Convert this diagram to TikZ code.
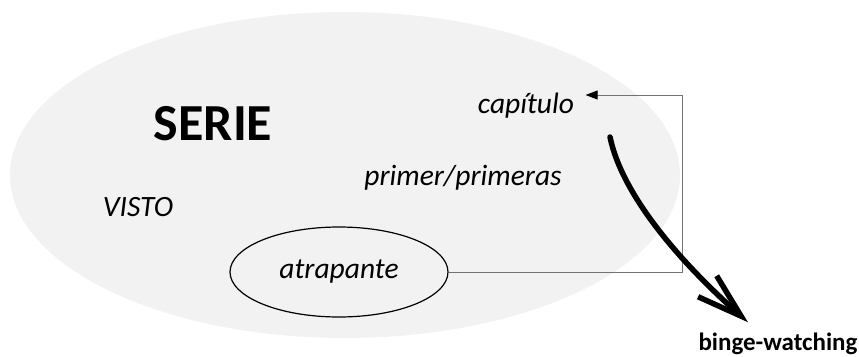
\documentclass[tikz,border=0pt]{standalone}
\usepackage{fontspec}
\setmainfont{Carlito}
\usetikzlibrary{arrows.meta,shapes.geometric}

\begin{document}
\begin{tikzpicture}[x=1pt,y=-1pt,
  word/.style={font=\fontsize{29.5}{35}\selectfont\itshape},
  link/.style={draw=black!55, line width=1pt}]
\useasboundingbox (0,0) rectangle (859,356);
\node[ellipse, fill=black!5, minimum width=670pt, minimum height=326pt, inner sep=0] (serieset) at (345,175) {};

\node[font=\fontsize{52}{60}\selectfont\bfseries] (serie) at (213,124) {SERIE};
\node[word] (visto) at (138,207) {VISTO};
\node[word] (primer) at (463,178) {primer/primeras};
\node[word] (cap) at (526,106) {capítulo};
\node[word, draw, ellipse, line width=1.2pt, minimum width=218pt, minimum height=90pt] (atr) at (339,272) {atrapante};
\node[font=\fontsize{25}{30}\selectfont\bfseries, anchor=base, inner sep=0] (binge) at (778,350) {binge-watching};

\coordinate (swoop) at (610,137);

\draw[link, -{Triangle[length=12pt,width=9pt,color=black]}] (atr.east) -- ++(234,0) |- ([xshift=8pt,yshift=11pt]cap.east);
\draw[line width=5.5pt, line cap=round, -{Straight Barb[length=45pt,width=28pt]}] (swoop) .. controls (622,195) and (680,262) .. ([xshift=-30pt,yshift=10pt]binge.north);
\end{tikzpicture}
\end{document}
